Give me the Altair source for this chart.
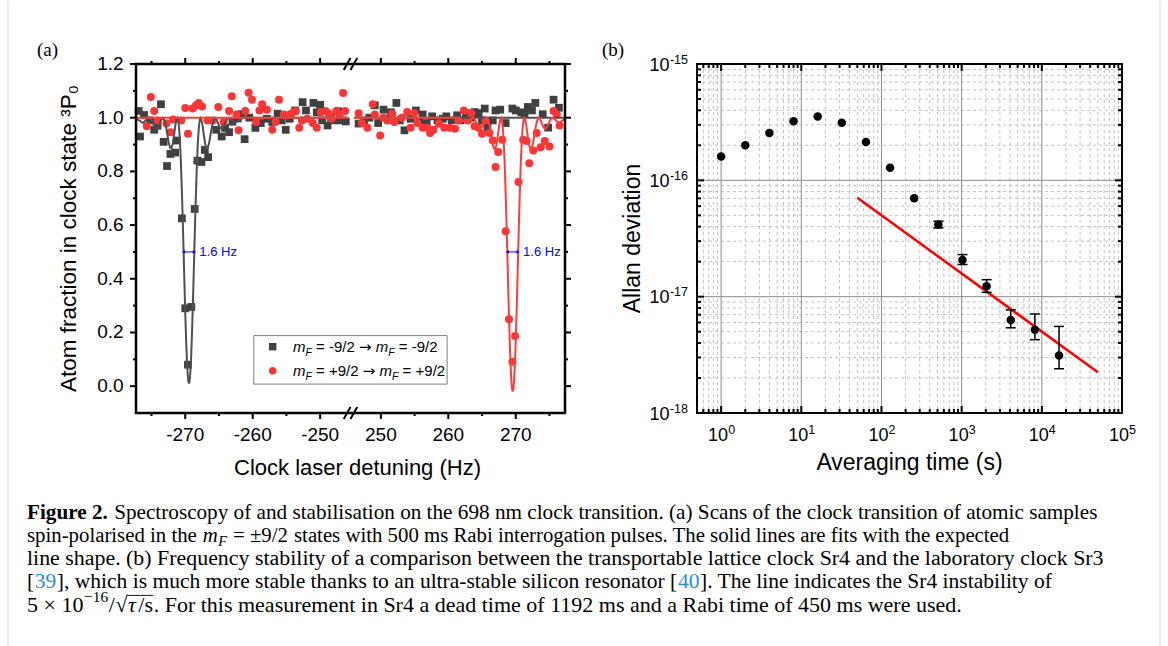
import math
import altair as alt
import pandas as pd

SANS = "Liberation Sans"
SERIF = "Liberation Serif"

# ---------------------------------------------------------------- panel (a) data
gray_x = [-276.9, -276.7, -276.1, -275.2, -274.6, -274.1, -273.6, -273.2, -272.7, -272.2,
          -271.5, -271.2, -270.5, -270.0, -269.6, -269.1, -268.6, -268.2, -267.6, -267.1,
          -266.6, -265.4, -264.6, -264.1, -263.5, -263.0, -262.2, -261.7, -261.2, -260.5,
          -259.6, -258.8, -257.9, -257.1, -256.3, -255.7, -255.1, -254.5, -253.7, -252.6,
          -252.1, -251.0, -250.5, -250.0, -249.7, -248.9, -248.4, -247.8, -247.3, -246.8, -246.2,
          246.7, 247.5, 248.3, 249.1, 249.6, 250.4, 251.0, 251.5, 252.3, 252.8,
          253.5, 254.4, 255.2, 255.7, 256.2, 256.8, 257.6, 258.4, 259.2, 259.7,
          260.5, 261.3, 261.8, 262.6, 263.4, 263.9, 264.5, 265.0, 265.4, 265.8,
          266.6, 267.0, 267.7, 268.5, 269.5, 270.0, 270.8, 271.3, 271.8, 272.4,
          272.9, 274.0, 274.8, 275.6, 276.4]
gray_y = [1.025, 0.93, 1.01, 0.99, 0.955, 0.97, 1.05, 0.91, 0.82, 0.865,
          0.87, 0.915, 0.625, 0.29, 0.08, 0.295, 0.66, 0.84, 0.835, 0.88,
          0.853, 0.955, 0.93, 0.962, 0.946, 0.985, 0.997, 1.013, 0.92, 1.0,
          0.962, 0.98, 0.996, 0.984, 1.015, 0.99, 0.955, 0.996, 1.027, 1.058,
          1.027, 1.055, 1.02, 1.048, 0.99, 0.971, 1.0, 0.99, 1.024, 0.99, 0.986,
          0.978, 0.99, 1.0, 1.046, 0.98, 1.03, 0.993, 1.02, 1.055, 0.99,
          0.953, 0.996, 1.027, 0.984, 1.012, 0.98, 1.005, 0.99, 0.996, 1.005,
          0.99, 1.009, 0.99, 1.017, 1.0, 1.021, 1.017, 0.99, 1.034, 0.965,
          0.99, 1.027, 1.03, 0.98, 1.034, 1.027, 1.02, 1.015, 1.04, 1.027,
          1.055, 1.013, 0.963, 1.067, 1.037]
red_x = [-275.7, -275.1, -274.6, -274.1, -272.8, -272.2, -271.8, -270.6, -270.0, -269.6,
         -268.9, -268.4, -268.0, -267.5, -266.7, -265.9, -265.1, -264.3, -263.5, -263.1,
         -262.4, -262.1, -261.1, -260.6, -260.1, -259.5, -259.0, -258.6, -257.9, -257.1,
         -256.6, -256.1, -255.4, -254.8, -254.2, -253.6, -253.1, -252.7, -251.9, -251.1,
         -250.5, -249.9, -249.2, -248.7, -248.3, -247.6, -247.1, -246.6, -246.3,
         246.7, 247.2, 248.0, 248.8, 249.1, 249.9, 250.4, 251.0, 251.7, 252.0,
         253.1, 253.9, 254.4, 255.0, 255.4, 256.2, 256.8, 257.3, 257.8, 258.6,
         259.4, 260.2, 261.0, 261.5, 262.3, 262.9, 263.4, 263.9, 264.5, 265.0,
         265.5, 266.1, 266.6, 267.0, 267.4, 268.0, 268.5, 269.0, 269.5, 269.9,
         270.4, 271.1, 271.6, 272.0, 272.6, 273.1, 273.7, 274.3, 275.0, 275.6,
         276.1, 276.5]
red_y = [0.968, 1.077, 1.025, 0.99, 0.978, 0.946, 0.993, 0.99, 1.036, 0.94,
         1.034, 1.046, 1.055, 1.042, 0.99, 0.99, 1.04, 0.984, 1.025, 1.08,
         1.012, 0.953, 1.025, 1.093, 1.067, 0.984, 1.027, 1.05, 1.03, 0.955,
         0.984, 1.067, 1.012, 1.009, 1.017, 1.025, 0.963, 0.99, 0.996, 0.98,
         0.963, 1.02, 1.025, 1.015, 0.996, 1.025, 1.012, 1.092, 1.025,
         1.017, 0.98, 0.963, 1.05, 1.012, 0.934, 1.0, 0.99, 1.015, 0.984,
         1.0, 1.021, 0.963, 1.017, 0.98, 0.963, 0.963, 0.943, 0.955, 0.978,
         0.963, 0.963, 0.959, 0.99, 1.027, 0.99, 1.017, 0.968, 0.963, 0.94,
         0.99, 0.943, 0.915, 0.816, 0.872, 0.918, 0.577, 0.249, 0.091, 0.187,
         0.76, 0.918, 0.913, 0.83, 0.878, 0.943, 0.89, 0.913, 0.893, 1.025,
         1.012, 0.971]

fit_dx = [-8.0, -7.4, -6.8, -6.2, -5.9, -5.6, -5.3, -5.0, -4.8, -4.5, -4.3, -4.0, -3.87,
          -3.6, -3.4, -3.2, -3.0, -2.8, -2.6, -2.4, -2.2, -2.0, -1.8, -1.73, -1.6, -1.5,
          -1.4, -1.3, -1.2, -1.1, -1.0, -0.9, -0.8, -0.7, -0.6, -0.5, -0.4, -0.3, -0.2, -0.1, 0.0]
gray_fit_y = [1.000, 0.990, 0.980, 0.995, 1.000, 0.993, 0.977, 0.962, 0.959, 0.968, 0.981,
              0.998, 1.000, 0.988, 0.966, 0.937, 0.907, 0.888, 0.886, 0.904, 0.937, 0.974,
              0.998, 1.000, 0.991, 0.971, 0.940, 0.894, 0.837, 0.766, 0.686, 0.599, 0.506,
              0.412, 0.321, 0.235, 0.158, 0.096, 0.049, 0.020, 0.010]
red_fit_y = [1.000, 0.990, 0.980, 0.995, 1.000, 0.993, 0.977, 0.961, 0.958, 0.967, 0.981,
             0.998, 1.000, 0.988, 0.965, 0.935, 0.904, 0.885, 0.883, 0.901, 0.935, 0.973,
             0.998, 1.000, 0.991, 0.970, 0.938, 0.891, 0.832, 0.759, 0.677, 0.587, 0.491,
             0.394, 0.300, 0.212, 0.133, 0.069, 0.020, -0.010, -0.020]
gray_center = -269.45
red_center = 269.55

fwhm_x1 = [-270.25, 268.75]
fwhm_x2 = [-268.65, 270.35]
fwhm_y = [0.5, 0.5]
fwhm_text = ["1.6 Hz", "1.6 Hz"]

a_major_x = [-270, -260, -250, 250, 260, 270]
a_x_labels = ["-270", "-260", "-250", "250", "260", "270"]
a_minor_x = [-275, -265, -255, 255, 265, 275]
a_major_y = [0.0, 0.2, 0.4, 0.6, 0.8, 1.0, 1.2]
a_y_labels = ["0.0", "0.2", "0.4", "0.6", "0.8", "1.0", "1.2"]
a_minor_y = [0.1, 0.3, 0.5, 0.7, 0.9, 1.1]

# ---------------------------------------------------------------- panel (b) data
tau = [1, 2, 4, 8, 16, 32, 64, 128, 256, 512, 1024, 2048, 4096, 8192, 16384]
adev = [1.60e-16, 2.00e-16, 2.55e-16, 3.22e-16, 3.53e-16, 3.13e-16, 2.14e-16, 1.28e-16,
        7.0e-17, 4.17e-17, 2.07e-17, 1.23e-17, 6.3e-18, 5.2e-18, 3.12e-18]
err_tau = [512, 1024, 2048, 4096, 8192, 16384]
err_lo = [3.90e-17, 1.89e-17, 1.09e-17, 5.4e-18, 4.27e-18, 2.40e-18]
err_hi = [4.45e-17, 2.30e-17, 1.40e-17, 7.7e-18, 7.1e-18, 5.55e-18]
line_tau = [50, 50000]
line_adev = [7.07e-17, 2.24e-18]
b_dec_x = [1, 10, 100, 1000, 10000, 100000]
b_exp_x = ["0", "1", "2", "3", "4", "5"]
b_dec_y = [1e-18, 1e-17, 1e-16, 1e-15]
b_exp_y = ["-18", "-17", "-16", "-15"]

# ---------------------------------------------------------------- layout constants
WA, HA = 429, 349          # plot area of panel (a)
WB, HB = 425, 349          # plot area of panel (b)
OX, OY = 136, 63           # page position of panel (a) plot area
BX = 697 - OX              # left edge of panel (b) plot area, relative to panel (a)
SHIFT = 491                # broken axis: right block is drawn shifted left by this
XP = f"datum.x < 0 ? datum.x : datum.x - {SHIFT}"
one = pd.DataFrame({"k": [0]})

sxA = alt.Scale(domain=[-277.3, 277.3 - SHIFT], nice=False, zero=False)
syA = alt.Scale(domain=[-0.1, 1.2], nice=False, zero=False)
sxB = alt.Scale(type="log", domain=[0.5, 1e5], range=[BX, BX + WB], nice=False)
syB = alt.Scale(type="log", domain=[1e-18, 1e-15], range=[HB, 0], nice=False)

XA = lambda f: alt.X(f, type="quantitative", scale=sxA, axis=None)
YA = lambda f: alt.Y(f, type="quantitative", scale=syA, axis=None)
XB = lambda f: alt.X(f, type="quantitative", scale=sxB, axis=None)
YB = lambda f: alt.Y(f, type="quantitative", scale=syB, axis=None)


def ptext(s, x, y, size, font=SANS, color="black", weight="normal", style="normal",
          align="left", baseline="alphabetic", angle=0):
    return alt.Chart(one).mark_text(text=s, font=font, fontSize=size, color=color,
                                    fontWeight=weight, fontStyle=style, align=align,
                                    baseline=baseline, angle=angle).encode(
        x=alt.value(x), y=alt.value(y))


def prule(x1, x2, y1, y2, color, width=1.0):
    return alt.Chart(one).mark_rule(color=color, strokeWidth=width).encode(
        x=alt.value(x1), x2=alt.value(x2), y=alt.value(y1), y2=alt.value(y2))


# ---- text width tables (Times / Helvetica metrics, per 1000 em)
TR = {c: w for c, w in zip("ABCDEFGHIJKLMNOPQRSTUVWXYZ",
                           [722, 667, 667, 722, 611, 556, 722, 722, 333, 389, 722, 611, 889,
                            722, 722, 556, 722, 667, 556, 611, 722, 722, 944, 722, 722, 611])}
TR.update({c: w for c, w in zip("abcdefghijklmnopqrstuvwxyz",
                                [444, 500, 444, 500, 444, 333, 500, 500, 278, 278, 500, 278, 778,
                                 500, 500, 500, 500, 333, 389, 278, 500, 500, 722, 500, 500, 444])})
TR.update({c: 500 for c in "0123456789"})
TR.update({" ": 250, "(": 333, ")": 333, ",": 250, "-": 333, ".": 250, "/": 278, ":": 278,
           "=": 564, "+": 564, "[": 333, "]": 333, "±": 564, "×": 564, "−": 564, "√": 549})
TB = dict(TR)
TB.update({"F": 611, "i": 278, "g": 500, "u": 556, "r": 444, "e": 444})
TI = {"m": 722, "F": 611, "τ": 440}
HV = {" ": 278, "=": 584, "-": 333, "+": 584, "/": 278, "→": 838, "m": 833, "F": 611}
HV.update({c: 556 for c in "0123456789"})


def tw(s, size, table):
    return sum(table.get(c, 500) for c in s) * size / 1000.0


# ---------------------------------------------------------------- panel (a)
df_gray = pd.DataFrame({"x": gray_x, "y": gray_y})
df_red = pd.DataFrame({"x": red_x, "y": red_y})

offs = fit_dx + [-d for d in fit_dx[-2::-1]]
gfy = gray_fit_y + gray_fit_y[-2::-1]
rfy = red_fit_y + red_fit_y[-2::-1]
g_rows = [(gray_center + o, y, "a") for o, y in zip(offs, gfy)] + [(-245.9, 1.0, "a"),
                                                                     (246.0, 1.0, "b"), (277.4, 1.0, "b")]
r_rows = [(-277.4, 1.0, "a"), (-245.9, 1.0, "a"), (246.0, 1.0, "b")] + \
         [(red_center + o, y, "b") for o, y in zip(offs, rfy)]
df_gfit = pd.DataFrame(g_rows, columns=["x", "y", "seg"])
df_rfit = pd.DataFrame(r_rows, columns=["x", "y", "seg"])

gray_pts = alt.Chart(df_gray).transform_calculate(xp=XP).mark_square(
    size=60, color="#404040", opacity=1).encode(x=XA("xp"), y=YA("y"))
red_pts = alt.Chart(df_red).transform_calculate(xp=XP).mark_circle(
    size=64, color="#ff3535", opacity=1).encode(x=XA("xp"), y=YA("y"))
gray_line = alt.Chart(df_gfit).transform_calculate(xp=XP).mark_line(
    color="#505050", strokeWidth=2, clip=True).encode(x=XA("xp"), y=YA("y"), detail="seg:N")
red_line = alt.Chart(df_rfit).transform_calculate(xp=XP).mark_line(
    color="#ff3c3c", strokeWidth=2, clip=True).encode(x=XA("xp"), y=YA("y"), detail="seg:N")

df_fw = pd.DataFrame({"x1": fwhm_x1, "x2": fwhm_x2, "y": fwhm_y, "t": fwhm_text})
fw_base = alt.Chart(df_fw).transform_calculate(
    x1p=f"datum.x1 < 0 ? datum.x1 : datum.x1 - {SHIFT}",
    x2p=f"datum.x2 < 0 ? datum.x2 : datum.x2 - {SHIFT}")
fw_rule = fw_base.mark_rule(color="#0000ff", strokeWidth=1).encode(
    x=XA("x1p"), x2=alt.X2("x2p"), y=YA("y"))
fw_l = fw_base.mark_point(shape="triangle-left", size=14, filled=True, color="#0000ff",
                          opacity=1).encode(x=XA("x1p"), y=YA("y"))
fw_r = fw_base.mark_point(shape="triangle-right", size=14, filled=True, color="#0000ff",
                          opacity=1).encode(x=XA("x2p"), y=YA("y"))
fw_t = fw_base.mark_text(font=SANS, fontSize=13, color="#0000ff", align="left",
                         baseline="middle", dx=5).encode(x=XA("x2p"), y=YA("y"), text="t:N")


def a_xticks(vals, length, side):
    df = pd.DataFrame({"x": vals})
    y1, y2 = (HA, HA + length) if side == "bottom" else (0, -length)
    return alt.Chart(df).transform_calculate(xp=XP).mark_rule(color="black", strokeWidth=2).encode(
        x=XA("xp"), y=alt.value(y1), y2=alt.value(y2))


def a_yticks(vals, length, side):
    df = pd.DataFrame({"v": vals})
    x1, x2 = (0, -length) if side == "left" else (WA, WA + length)
    return alt.Chart(df).mark_rule(color="black", strokeWidth=2).encode(
        y=YA("v"), x=alt.value(x1), x2=alt.value(x2))


ticksA = [a_xticks(a_major_x, 6, "bottom"), a_xticks(a_minor_x, 3, "bottom"),
          a_xticks(a_major_x, 6, "top"), a_xticks(a_minor_x, 3, "top"),
          a_yticks(a_major_y, 6, "left"), a_yticks(a_minor_y, 3, "left"),
          a_yticks(a_major_y, 6, "right"), a_yticks(a_minor_y, 3, "right")]

labelsA = [
    alt.Chart(pd.DataFrame({"x": a_major_x, "t": a_x_labels})).transform_calculate(xp=XP)
    .mark_text(font=SANS, fontSize=19, color="black", align="center", baseline="alphabetic")
    .encode(x=XA("xp"), y=alt.value(HA + 27.5), text="t:N"),
    alt.Chart(pd.DataFrame({"v": a_major_y, "t": a_y_labels}))
    .mark_text(font=SANS, fontSize=19, color="black", align="right", baseline="middle")
    .encode(y=YA("v"), x=alt.value(-12.4), text="t:N"),
    ptext("Clock laser detuning (Hz)", 221.5, HA + 61.7, 22, align="center"),
    ptext("Atom fraction in clock state ³P₀", -60, HA / 2, 22.5, align="center", angle=270),
]

frameA = alt.Chart(one).mark_rect(fillOpacity=0, stroke="black", strokeWidth=2.5).encode(
    x=alt.value(0), x2=alt.value(WA), y=alt.value(0), y2=alt.value(HA))

brk = -245.45
breaks = []
for yy in (0, HA):
    for d in (-0.95, 0.05):
        breaks.append(alt.Chart(one).mark_rule(color="black", strokeWidth=2).encode(
            x=alt.X(datum=brk + d - 0.1, type="quantitative", scale=sxA, axis=None),
            x2=alt.X2(datum=brk + d + 0.9),
            y=alt.value(yy + 6), y2=alt.value(yy - 6)))

# legend of panel (a)
LG = 15
leg = [alt.Chart(one).mark_rect(fill="white", stroke="#7f7f7f", strokeWidth=1).encode(
    x=alt.value(117.8), x2=alt.value(311.1), y=alt.value(271.6), y2=alt.value(320.1)),
    alt.Chart(one).mark_square(size=56, color="#404040", opacity=1).encode(
        x=alt.value(136.7), y=alt.value(282.7)),
    alt.Chart(one).mark_circle(size=58, color="#ff3535", opacity=1).encode(
        x=alt.value(136.7), y=alt.value(306.7))]
for row, sign in ((288.0, "-"), (312.0, "+")):
    pieces = [("m", "i", 1.0, 0, SANS), ("F", "i", 0.7, 3.5, SANS),
              (f" = {sign}9/2 ", "r", 1.0, 0, SANS), ("→", "r", 1.0, 0, "DejaVu Sans"),
              (" m", "i", 1.0, 0, SANS), ("F", "i", 0.7, 3.5, SANS),
              (f" = {sign}9/2", "r", 1.0, 0, SANS)]
    cx = 157.0
    for s, st, fac, dy, fnt in pieces:
        sz = LG * fac
        lead = len(s) - len(s.lstrip())
        leg.append(ptext(s.strip(), cx + tw(s[:lead], sz, HV), row + dy, sz, font=fnt,
                         style="italic" if st == "i" else "normal"))
        cx += tw(s, sz, HV)

# caption (drawn relative to panel (a) origin); one font size per line
CAP_SIZE = [21.2, 20.8, 21.9, 21.5, 22.0]
CAP_X = 27 - OX
CAP_Y = [517.5 - OY, 540.8 - OY, 564.1 - OY, 587.4 - OY, 610.7 - OY]
LINK = "#2f8fcf"
caption_lines = [
    [("Figure 2.", "b"), (" Spectroscopy of and stabilisation on the 698 nm clock transition. "
                          "(a) Scans of the clock transition of atomic samples", "r")],
    [("spin-polarised in the ", "r"), ("m", "i"), ("F", "sub"), (" = ±9/2", "r"),
     (" states with 500 ms Rabi interrogation pulses. The solid lines are fits with the expected", "r")],
    [("line shape. (b) Frequency stability of a comparison between the transportable lattice "
      "clock Sr4 and the laboratory clock Sr3", "r")],
    [("[", "r"), ("39", "link"), ("], which is much more stable thanks to an ultra-stable silicon "
                                  "resonator [", "r"), ("40", "link"),
     ("]. The line indicates the Sr4 instability of", "r")],
    [("5 × 10", "r"), ("−16", "sup"), ("/", "r"), ("√", "r"), ("τ", "i"), ("/s", "r"),
     (". For this measurement in Sr4 a dead time of 1192 ms and a Rabi time of 450 ms were used.", "r")],
]
cap_layers = []
over_x1 = over_x2 = 0
for li, pieces in enumerate(caption_lines):
    CS = CAP_SIZE[li]
    cx = CAP_X
    base = CAP_Y[li]
    for k, (s, st) in enumerate(pieces):
        sz = CS * (0.7 if st in ("sub", "sup") else 1.0)
        table = TB if st == "b" else (TI if st in ("i", "sub") else TR)
        dy = 0.22 * CS if st == "sub" else (-0.42 * CS if st == "sup" else 0)
        lead = len(s) - len(s.lstrip())
        if k > 0:
            cx += 0.6
        if s == "τ":
            over_x1 = cx
        cap_layers.append(ptext(s.strip(), cx + tw(s[:lead], sz, table), base + dy, sz,
                                font=SERIF, color=LINK if st == "link" else "black",
                                weight="bold" if st == "b" else "normal",
                                style="italic" if st in ("i", "sub") else "normal"))
        cx += tw(s, sz, table)
        if s == "/s":
            over_x2 = cx
cap_layers.append(prule(over_x1 - 1, over_x2, CAP_Y[4] - 0.74 * CAP_SIZE[4],
                        CAP_Y[4] - 0.74 * CAP_SIZE[4], "black", 0.9))

page_bg = alt.Chart(one).mark_rect(fill="white").encode(
    x=alt.value(-OX), x2=alt.value(1168 - OX), y=alt.value(-OY), y2=alt.value(646 - OY))
borders = [prule(8 - OX, 8 - OX, -OY, 646 - OY, "#d6d6d6", 1),
           prule(1160 - OX, 1160 - OX, -OY, 646 - OY, "#d6d6d6", 1)]
panel_tags = [ptext("(a)", 37 - OX, 55 - OY, 19, font=SERIF),
              ptext("(b)", 602 - OX, 55 - OY, 19, font=SERIF)]

layerA = alt.layer(page_bg, *borders, *cap_layers, *panel_tags, gray_pts, red_pts, gray_line,
                   red_line, fw_rule, fw_l, fw_r, fw_t, *leg, *ticksA, frameA, *breaks, *labelsA)

# ---------------------------------------------------------------- panel (b)
minor_x = [m * 10.0 ** e for e in range(-1, 5) for m in range(2, 10) if 0.5 < m * 10.0 ** e < 1e5]
minor_y = [m * 10.0 ** e for e in (-18, -17, -16) for m in range(2, 10)]
major_x = [1, 10, 100, 1000, 10000]
major_y = [1e-17, 1e-16]

gridB = [
    alt.Chart(pd.DataFrame({"v": minor_x})).mark_rule(color="#c2c2c2", strokeWidth=1,
                                                      strokeDash=[3, 3]).encode(x=XB("v")),
    alt.Chart(pd.DataFrame({"v": minor_y})).mark_rule(color="#c2c2c2", strokeWidth=1,
                                                      strokeDash=[3, 3]).encode(
        y=YB("v"), x=alt.value(BX), x2=alt.value(BX + WB)),
    alt.Chart(pd.DataFrame({"v": major_x})).mark_rule(color="#8c8c8c", strokeWidth=1).encode(x=XB("v")),
    alt.Chart(pd.DataFrame({"v": major_y})).mark_rule(color="#8c8c8c", strokeWidth=1).encode(
        y=YB("v"), x=alt.value(BX), x2=alt.value(BX + WB)),
]


def b_ticks(vals, length, side):
    df = pd.DataFrame({"v": vals})
    r = alt.Chart(df).mark_rule(color="black", strokeWidth=2)
    if side == "bottom":
        return r.encode(x=XB("v"), y=alt.value(HB), y2=alt.value(HB - length))
    if side == "top":
        return r.encode(x=XB("v"), y=alt.value(0), y2=alt.value(length))
    if side == "left":
        return r.encode(y=YB("v"), x=alt.value(BX), x2=alt.value(BX + length))
    return r.encode(y=YB("v"), x=alt.value(BX + WB), x2=alt.value(BX + WB - length))


ticksB = []
for side in ("bottom", "top"):
    ticksB += [b_ticks(major_x, 7, side), b_ticks(minor_x, 4, side)]
for side in ("left", "right"):
    ticksB += [b_ticks(major_y, 7, side), b_ticks(minor_y, 4, side)]

df_bx = pd.DataFrame({"v": b_dec_x, "e": b_exp_x})
df_by = pd.DataFrame({"v": b_dec_y, "e": b_exp_y})
labelsB = [
    alt.Chart(df_bx).mark_text(text="10", font=SANS, fontSize=18, color="black", align="right",
                               baseline="alphabetic", dx=7).encode(x=XB("v"), y=alt.value(HB + 27.5)),
    alt.Chart(df_bx).mark_text(font=SANS, fontSize=12.5, color="black", align="left",
                               baseline="alphabetic", dx=7).encode(
        x=XB("v"), y=alt.value(HB + 20.5), text="e:N"),
    alt.Chart(df_by).mark_text(text="10", font=SANS, fontSize=18, color="black", align="right",
                               baseline="alphabetic", dy=6.5).encode(y=YB("v"), x=alt.value(BX - 27.5)),
    alt.Chart(df_by).mark_text(font=SANS, fontSize=12.5, color="black", align="right",
                               baseline="alphabetic", dy=-0.5).encode(
        y=YB("v"), x=alt.value(BX - 9), text="e:N"),
    ptext("Averaging time (s)", BX + WB / 2, HB + 56.5, 23, align="center"),
    ptext("Allan deviation", BX - 57, HB / 2, 23, align="center", angle=270),
]

df_b = pd.DataFrame({"tau": tau, "adev": adev})
df_err = pd.DataFrame({"tau": err_tau, "lo": err_lo, "hi": err_hi})
df_line = pd.DataFrame({"tau": line_tau, "adev": line_adev})

red_fit_b = alt.Chart(df_line).mark_line(color="#ff0000", strokeWidth=2.5).encode(
    x=XB("tau"), y=YB("adev"))
pts_b = alt.Chart(df_b).mark_circle(size=72, color="black", opacity=1).encode(
    x=XB("tau"), y=YB("adev"))
err_rule = alt.Chart(df_err).mark_rule(color="black", strokeWidth=1.5).encode(
    x=XB("tau"), y=YB("lo"), y2=alt.Y2("hi"))
cap_hi = alt.Chart(df_err).mark_tick(orient="horizontal", size=10, thickness=1.5,
                                     color="black", opacity=1).encode(x=XB("tau"), y=YB("hi"))
cap_lo = alt.Chart(df_err).mark_tick(orient="horizontal", size=10, thickness=1.5,
                                     color="black", opacity=1).encode(x=XB("tau"), y=YB("lo"))
frameB = alt.Chart(one).mark_rect(fillOpacity=0, stroke="black", strokeWidth=2).encode(
    x=alt.value(BX), x2=alt.value(BX + WB), y=alt.value(0), y2=alt.value(HB))

layerB = alt.layer(*gridB, red_fit_b, pts_b, err_rule, cap_hi, cap_lo, *ticksB, frameB, *labelsB)

chart = alt.layer(layerA, layerB).resolve_scale(x="independent", y="independent").properties(
    width=WA, height=HA, padding=0, background="white").configure_view(stroke="transparent")

chart.save("out.html", embed_options={"renderer": "svg", "actions": False})
